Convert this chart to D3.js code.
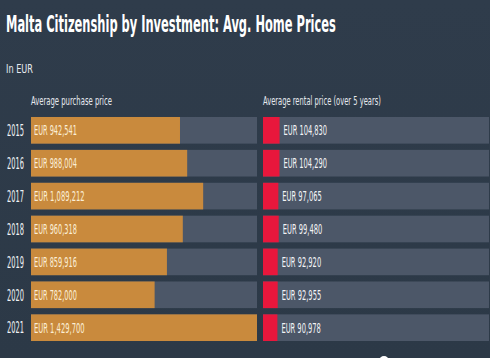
<!DOCTYPE html>
<html>
<head>
<meta charset="utf-8">
<script src="https://cdn.jsdelivr.net/npm/d3@7"></script>
<style>
  html, body { margin: 0; padding: 0; background: #2e3b4a; }
  svg { display: block; }
</style>
</head>
<body>
<div id="chart"></div>
<script>
// data
const years = ["2015", "2016", "2017", "2018", "2019", "2020", "2021"];
const purchasePrice = [942541, 988004, 1089212, 960318, 859916, 782000, 1429700];
const rentalPrice = [104830, 104290, 97065, 99480, 92920, 92955, 90978];

document.addEventListener('DOMContentLoaded', function() {
    renderChart();
});

// put a text at (x, y) and squeeze it horizontally to the width seen on the picture
function placeText(parent, x, y, str, size, width, opts) {
    opts = opts || {};
    const t = parent.append("text")
        .attr("fill", opts.fill || "#e6e9ee")
        .style("font-size", size + "px")
        .style("font-weight", opts.bold ? "bold" : "normal")
        .attr("dy", opts.dy || null)
        .text(str);
    const natural = t.node().getComputedTextLength();
    const k = natural > 0 ? width / natural : 1;
    t.attr("transform", "translate(" + x + "," + y + ") scale(" + k + ",1)");
    return t;
}

function renderChart() {
    const width = 490, height = 358;
    const font = "'Liberation Sans Narrow', 'DejaVu Sans Condensed', 'DejaVu Sans', sans-serif";

    const svg = d3.select("#chart").append("svg")
        .attr("width", width)
        .attr("height", height)
        .style("font-family", font);

    // background with a faint vertical gradient
    const defs = svg.append("defs");
    const grad = defs.append("linearGradient")
        .attr("id", "bg")
        .attr("x1", 0).attr("y1", 0).attr("x2", 0).attr("y2", 1);
    grad.append("stop").attr("offset", "0%").attr("stop-color", "#2f3c4b");
    grad.append("stop").attr("offset", "100%").attr("stop-color", "#2c3947");

    svg.append("rect")
        .attr("width", width)
        .attr("height", height)
        .attr("fill", "url(#bg)");

    // titles
    placeText(svg, 6, 32, "Malta Citizenship by Investment: Avg. Home Prices", 23, 330,
        { fill: "#ffffff", bold: true });
    placeText(svg, 6, 73, "In EUR", 12.5, 27);

    // layout
    const leftX = 31, rightX = 263, trackW = 226;
    const y = d3.scaleBand()
        .domain(years)
        .range([116, 342])
        .paddingInner(0.19)
        .paddingOuter(0.03);

    // both panels share one value scale
    const x = d3.scaleLinear()
        .domain([0, d3.max(purchasePrice)])
        .range([0, trackW]);

    placeText(svg, leftX, 105, "Average purchase price", 12.5, 81);
    placeText(svg, rightX, 105, "Average rental price (over 5 years)", 12.5, 118);

    const rows = years.map((yr, i) => ({
        year: yr,
        purchase: purchasePrice[i],
        rental: rentalPrice[i]
    }));

    const fmt = d3.format(",");
    const label = v => "EUR " + fmt(v);
    const bh = y.bandwidth();

    const row = svg.selectAll(".row")
        .data(rows)
        .enter().append("g")
        .attr("class", "row")
        .attr("transform", d => "translate(0," + y(d.year) + ")");

    // tracks
    row.append("rect")
        .attr("x", leftX)
        .attr("width", trackW)
        .attr("height", bh)
        .attr("fill", "#4c5768");

    row.append("rect")
        .attr("x", rightX)
        .attr("width", trackW)
        .attr("height", bh)
        .attr("fill", "#4c5768");

    // purchase bars
    row.append("rect")
        .attr("x", leftX)
        .attr("width", d => x(d.purchase))
        .attr("height", bh)
        .attr("fill", "#c98a3d");

    // rental bars
    row.append("rect")
        .attr("x", rightX)
        .attr("width", d => x(d.rental))
        .attr("height", bh)
        .attr("fill", "#e8173c");

    // labels
    row.each(function(d) {
        const g = d3.select(this);
        placeText(g, 7, bh / 2, d.year, 16, 17, { fill: "#f0f2f5", dy: "0.36em" });
        const lp = label(d.purchase);
        placeText(g, leftX + 3, bh / 2, lp, 14, lp.length * 3.9, { fill: "#fbeed6", dy: "0.36em" });
        const lr = label(d.rental);
        placeText(g, rightX + x(d.rental) + 4, bh / 2, lr, 14, lr.length * 3.95, { fill: "#f3f4f6", dy: "0.36em" });
    });

    // carousel dot peeking in at the bottom
    svg.append("circle")
        .attr("cx", 384)
        .attr("cy", 361)
        .attr("r", 5)
        .attr("fill", "#ffffff");
}
</script>
</body>
</html>
